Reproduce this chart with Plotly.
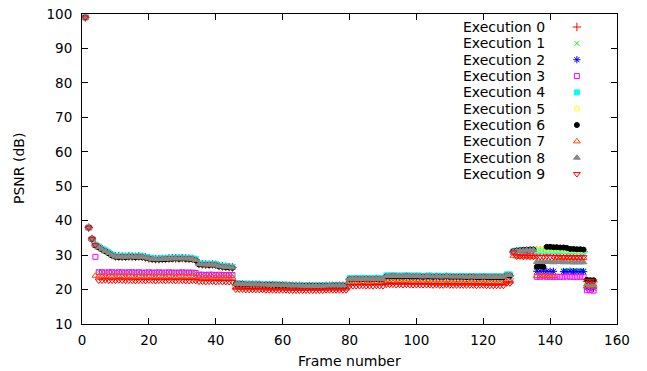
import plotly.graph_objects as go

frames = list(range(1, 154))

exec_0 = [99.0, 38.0, 34.7, 32.9,
    32.3, 31.7, 31.2, 30.6, 30.0, 29.6, 29.6, 29.5, 29.5, 29.6, 29.5, 29.5, 29.6, 29.5, 29.3, 29.0, 28.9, 28.8, 28.8, 28.9,
    28.9, 29.0, 29.1, 29.0, 29.0, 29.1, 29.0, 28.9, 28.9, 28.6, 27.4, 27.3, 27.2, 27.2, 27.3, 27.2, 26.8, 26.7, 26.6, 26.5, 26.4,
    21.5, 21.5, 21.5, 21.4, 21.4, 21.4, 21.4, 21.4, 21.3, 21.3, 21.3, 21.3, 21.3, 21.2, 21.2, 21.2, 21.1, 21.1, 21.1, 21.1,
    21.0, 21.0, 21.0, 21.0, 21.0, 21.0, 21.0, 21.1, 21.1, 21.1, 21.1, 21.1, 21.1, 21.1,
    23.0, 23.0, 23.0, 23.0, 23.1, 23.0, 23.0, 23.0, 23.1, 23.0, 23.0,
    23.7, 23.7, 23.8, 23.7, 23.7, 23.7, 23.8, 23.7, 23.7, 23.7, 23.7, 23.6, 23.7, 23.7, 23.6, 23.7, 23.6, 23.6, 23.7, 23.6,
    23.6, 23.6, 23.6, 23.6, 23.5, 23.6, 23.6, 23.5, 23.5, 23.6, 23.5, 23.5, 23.5, 23.5, 23.5, 23.5,
    24.0, 24.0,
    30.9, 31.1, 31.2, 31.2, 31.3, 31.3, 31.4,
    31.3, 31.3, 31.3, 31.2, 31.2, 31.2, 31.2, 31.2, 31.1, 31.1, 31.1, 31.1, 31.0, 31.0, 31.0,
    22.3, 22.2, 22.2]

exec_1 = [99.0, 38.0, 34.7, 32.8,
    25.2, 25.1, 25.1, 25.2, 25.1, 25.1, 25.2, 25.1, 25.1, 25.1, 25.2, 25.1, 25.1, 25.1, 25.0, 25.1, 25.1, 25.0, 25.1, 25.1,
    25.0, 25.1, 25.1, 25.1, 25.0, 25.1, 25.1, 25.0, 25.1, 25.0,
    24.5, 24.4, 24.4, 24.5, 24.4, 24.4, 24.4, 24.3, 24.4, 24.4, 24.3,
    21.7, 21.7, 21.7, 21.6, 21.6, 21.6, 21.6, 21.6, 21.5, 21.5, 21.5, 21.5, 21.5, 21.4, 21.4, 21.4, 21.3, 21.3, 21.3, 21.3,
    21.2, 21.2, 21.2, 21.2, 21.2, 21.2, 21.2, 21.3, 21.3, 21.3, 21.3, 21.3, 21.3, 21.3,
    23.2, 23.2, 23.2, 23.2, 23.3, 23.2, 23.2, 23.2, 23.3, 23.2, 23.2,
    24.0, 24.0, 24.1, 24.0, 24.0, 24.0, 24.1, 24.0, 24.0, 24.0, 24.0, 23.9, 24.0, 24.0, 23.9, 24.0, 23.9, 23.9, 24.0, 23.9,
    23.9, 23.9, 23.9, 23.9, 23.8, 23.9, 23.9, 23.8, 23.8, 23.9, 23.8, 23.8, 23.8, 23.8, 23.8, 23.8,
    24.3, 24.3,
    31.0, 31.2, 31.3, 31.3, 31.4, 31.4, 31.5,
    31.6, 31.5, 31.6, 31.5, 31.5, 31.5, 31.4, 31.4, 25.6, 25.6, 25.5, 25.6, 25.5, 25.5, 25.5,
    21.2, 21.1, 21.1]

exec_2 = [99.0, 38.0, 34.7, 33.0,
    32.4, 31.8, 31.3, 30.7, 30.1, 29.7, 29.7, 29.7, 29.6, 29.7, 29.7, 29.6, 29.7, 29.6, 29.4, 29.2, 29.0, 28.9, 28.9, 29.0,
    29.0, 29.1, 29.1, 29.2, 29.1, 29.2, 29.1, 29.1, 29.0, 28.7, 27.5, 27.4, 27.4, 27.3, 27.4, 27.3, 26.9, 26.8, 26.7, 26.6, 26.5,
    21.1, 21.1, 21.1, 21.0, 21.0, 21.0, 21.0, 21.0, 21.0, 20.9, 20.9, 20.9, 20.9, 20.9, 20.9, 20.9, 20.8, 20.8, 20.8, 20.8,
    20.8, 20.8, 20.8, 20.8, 20.8, 20.8, 20.8, 20.9, 20.9, 20.9, 20.9, 20.9, 20.9, 20.9,
    22.4, 22.4, 22.5, 22.4, 22.4, 22.5, 22.4, 22.4, 22.5, 22.4, 22.4,
    22.9, 22.9, 23.0, 22.9, 22.9, 22.9, 23.0, 22.9, 22.9, 22.9, 22.9, 22.8, 22.9, 22.9, 22.8, 22.9, 22.8, 22.8, 22.9, 22.8,
    22.8, 22.8, 22.8, 22.8, 22.7, 22.8, 22.8, 22.7, 22.7, 22.8, 22.7, 22.7, 22.7, 22.7, 22.7, 22.7,
    23.1, 23.1,
    30.9, 31.1, 31.2, 31.3, 31.3, 31.4, 31.4,
    25.3, 25.3, 25.4, 25.3, 25.3, 25.3, 31.5, 31.4, 25.2, 25.2, 25.3, 25.2, 25.2, 25.2, 25.2,
    20.5, 20.5, 20.4]

exec_3 = [99.0, 38.0, 34.7, 29.5,
    25.0, 25.0, 24.9, 25.0, 25.0, 24.9, 25.0, 25.0, 24.9, 25.0, 25.0, 24.9, 25.0, 24.9, 24.9, 25.0, 24.9, 24.9, 25.0, 24.9,
    24.9, 25.0, 24.9, 24.9, 24.9, 25.0, 24.9, 24.9, 24.9, 24.8,
    24.3, 24.3, 24.2, 24.3, 24.3, 24.2, 24.3, 24.2, 24.2, 24.2, 24.2,
    21.0, 21.0, 21.0, 20.9, 20.9, 20.9, 20.9, 20.9, 20.9, 20.8, 20.8, 20.8, 20.8, 20.8, 20.8, 20.8, 20.7, 20.7, 20.7, 20.7,
    20.7, 20.7, 20.7, 20.7, 20.7, 20.7, 20.7, 20.8, 20.8, 20.8, 20.8, 20.8, 20.8, 20.8,
    22.3, 22.3, 22.3, 22.3, 22.4, 22.3, 22.3, 22.3, 22.4, 22.3, 22.3,
    22.6, 22.6, 22.7, 22.6, 22.6, 22.6, 22.7, 22.6, 22.6, 22.6, 22.6, 22.5, 22.6, 22.6, 22.5, 22.6, 22.5, 22.5, 22.6, 22.5,
    22.5, 22.5, 22.5, 22.5, 22.4, 22.5, 22.5, 22.4, 22.4, 22.5, 22.4, 22.4, 22.4, 22.4, 22.4, 22.4,
    22.9, 22.9,
    30.8, 31.0, 31.1, 31.2, 31.2, 31.3, 31.3,
    23.7, 23.7, 23.8, 23.7, 23.7, 23.7, 23.7, 23.7, 23.7, 23.8, 23.7, 23.7, 23.7, 23.7, 23.7,
    19.8, 19.8, 19.7]

exec_4 = [99.0, 38.0, 34.7, 33.1,
    32.5, 31.9, 31.4, 30.8, 30.2, 29.8, 29.7, 29.8, 29.7, 29.8, 29.8, 29.7, 29.8, 29.7, 29.5, 29.3, 29.1, 29.0, 29.0, 29.1,
    29.1, 29.2, 29.2, 29.3, 29.2, 29.3, 29.2, 29.2, 29.1, 28.8, 27.6, 27.5, 27.5, 27.4, 27.5, 27.4, 27.0, 26.9, 26.8, 26.7, 26.6,
    21.8, 21.8, 21.7, 21.7, 21.7, 21.6, 21.7, 21.6, 21.6, 21.6, 21.5, 21.5, 21.5, 21.4, 21.4, 21.4, 21.3, 21.3, 21.3, 21.3,
    21.2, 21.2, 21.2, 21.2, 21.2, 21.2, 21.2, 21.3, 21.3, 21.3, 21.3, 21.3, 21.3, 21.3,
    23.3, 23.3, 23.3, 23.3, 23.4, 23.3, 23.3, 23.3, 23.4, 23.3, 23.3,
    24.1, 24.1, 24.1, 24.1, 24.0, 24.1, 24.1, 24.1, 24.0, 24.1, 24.0, 24.0, 24.0, 24.1, 24.0, 24.0, 24.0, 24.0, 24.0, 24.0,
    23.9, 23.9, 24.0, 23.9, 23.9, 23.9, 23.9, 23.9, 23.9, 23.9, 23.9, 23.9, 23.8, 23.9, 23.8, 23.8,
    24.4, 24.4,
    31.1, 31.3, 31.4, 31.4, 31.5, 31.5, 31.6,
    31.3, 31.4, 31.3, 31.3, 31.3, 31.2, 31.3, 31.2, 31.2, 31.2, 31.1, 31.1, 31.1, 31.1, 31.0,
    22.0, 22.0, 21.9]

exec_5 = [99.0, 38.0, 34.7, 32.9,
    32.2, 31.6, 31.1, 30.5, 29.9, 29.5, 29.5, 29.5, 29.4, 29.5, 29.5, 29.4, 29.5, 29.4, 29.2, 29.0, 28.8, 28.7, 28.7, 28.8,
    28.8, 28.9, 28.9, 29.0, 28.9, 29.0, 28.9, 28.9, 28.8, 28.5, 27.3, 27.2, 27.2, 27.1, 27.2, 27.1, 26.7, 26.6, 26.5, 26.4, 26.3,
    21.1, 21.1, 21.0, 21.0, 21.0, 21.0, 21.0, 20.9, 20.9, 20.9, 20.9, 20.9, 20.9, 20.8, 20.8, 20.8, 20.8, 20.8, 20.8, 20.8,
    20.7, 20.7, 20.7, 20.7, 20.7, 20.7, 20.7, 20.8, 20.8, 20.8, 20.8, 20.8, 20.8, 20.8,
    22.6, 22.6, 22.6, 22.6, 22.7, 22.6, 22.6, 22.6, 22.7, 22.6, 22.6,
    22.9, 23.0, 23.0, 22.9, 23.0, 22.9, 23.0, 22.9, 22.9, 22.9, 22.9, 22.9, 22.9, 22.9, 22.8, 22.9, 22.8, 22.8, 22.9, 22.8,
    22.8, 22.8, 22.8, 22.8, 22.8, 22.8, 22.8, 22.7, 22.8, 22.8, 22.7, 22.7, 22.7, 22.7, 22.7, 22.7,
    23.2, 23.2,
    31.0, 31.2, 31.3, 31.3, 31.4, 31.4, 31.5,
    31.6, 31.6, 31.5, 31.6, 31.5, 31.5, 31.5, 31.5, 31.4, 31.4, 31.4, 31.4, 31.3, 31.3, 31.3,
    21.8, 21.7, 21.7]

exec_6 = [99.0, 38.0, 34.7, 32.8,
    32.2, 31.6, 31.1, 30.5, 29.9, 29.5, 29.4, 29.5, 29.4, 29.5, 29.5, 29.4, 29.5, 29.4, 29.2, 29.0, 28.8, 28.7, 28.7, 28.8,
    28.8, 28.9, 28.9, 29.0, 28.9, 29.0, 28.9, 28.9, 28.8, 28.5, 27.3, 27.2, 27.2, 27.1, 27.2, 27.1, 26.7, 26.6, 26.5, 26.4, 26.3,
    21.6, 21.6, 21.6, 21.5, 21.5, 21.5, 21.5, 21.5, 21.4, 21.4, 21.4, 21.4, 21.3, 21.3, 21.3, 21.2, 21.2, 21.2, 21.1, 21.1,
    21.1, 21.1, 21.1, 21.1, 21.1, 21.1, 21.1, 21.1, 21.1, 21.2, 21.2, 21.2, 21.2, 21.2,
    23.0, 23.0, 23.1, 23.0, 23.0, 23.1, 23.0, 23.0, 23.1, 23.0, 23.0,
    23.8, 23.8, 23.9, 23.8, 23.8, 23.8, 23.9, 23.8, 23.8, 23.8, 23.8, 23.7, 23.8, 23.8, 23.7, 23.8, 23.7, 23.7, 23.8, 23.7,
    23.7, 23.7, 23.7, 23.7, 23.6, 23.7, 23.7, 23.6, 23.6, 23.7, 23.6, 23.6, 23.6, 23.6, 23.6, 23.6,
    24.1, 24.1,
    31.1, 31.3, 31.4, 31.5, 31.5, 31.6, 31.6,
    26.6, 26.7, 26.6, 32.4, 32.4, 32.3, 32.3, 32.2, 32.2, 32.1, 31.8, 31.8, 31.7, 31.7, 31.6,
    22.8, 22.7, 22.7]

exec_7 = [99.0, 38.0, 34.7, 24.0,
    23.8, 23.8, 23.9, 23.8, 23.8, 23.8, 23.9, 23.8, 23.8, 23.8, 23.8, 23.7, 23.8, 23.8, 23.7, 23.8, 23.8, 23.7, 23.8, 23.8,
    23.7, 23.8, 23.8, 23.7, 23.8, 23.8, 23.7, 23.7, 23.8, 23.7,
    23.5, 23.5, 23.4, 23.5, 23.5, 23.4, 23.5, 23.4, 23.4, 23.4, 23.4,
    20.5, 20.5, 20.5, 20.4, 20.4, 20.4, 20.4, 20.4, 20.4, 20.3, 20.3, 20.3, 20.3, 20.3, 20.3, 20.3, 20.2, 20.2, 20.2, 20.2,
    20.2, 20.2, 20.2, 20.2, 20.2, 20.2, 20.2, 20.3, 20.3, 20.3, 20.3, 20.3, 20.3, 20.3,
    21.8, 21.8, 21.8, 21.8, 21.9, 21.8, 21.8, 21.8, 21.9, 21.8, 21.8,
    22.0, 22.0, 22.0, 21.9, 22.0, 21.9, 22.0, 21.9, 21.9, 21.9, 21.9, 21.9, 21.9, 21.9, 21.8, 21.9, 21.8, 21.8, 21.9, 21.8,
    21.8, 21.8, 21.8, 21.8, 21.8, 21.8, 21.8, 21.7, 21.8, 21.8, 21.7, 21.7, 21.7, 21.7, 21.7, 21.7,
    22.3, 22.3,
    29.8, 29.6, 29.6, 29.7, 29.6, 29.6, 29.6,
    23.9, 23.9, 24.0, 23.9, 23.9, 23.9, 29.2, 29.2, 29.3, 29.2, 29.2, 29.2, 29.1, 29.1, 29.1,
    21.0, 21.0, 20.9]

exec_8 = [99.0, 38.0, 34.7, 32.9,
    32.3, 31.7, 31.2, 30.6, 30.0, 29.6, 29.5, 29.6, 29.5, 29.6, 29.6, 29.5, 29.6, 29.5, 29.3, 29.1, 28.9, 28.8, 28.8, 28.9,
    28.9, 29.0, 29.0, 29.1, 29.0, 29.1, 29.0, 29.0, 28.9, 28.6, 27.4, 27.3, 27.3, 27.2, 27.3, 27.2, 26.8, 26.7, 26.6, 26.5, 26.4,
    21.7, 21.7, 21.6, 21.6, 21.6, 21.5, 21.6, 21.5, 21.5, 21.5, 21.4, 21.4, 21.4, 21.3, 21.3, 21.3, 21.2, 21.2, 21.2, 21.2,
    21.1, 21.1, 21.1, 21.1, 21.1, 21.1, 21.1, 21.2, 21.2, 21.2, 21.2, 21.2, 21.2, 21.2,
    23.1, 23.1, 23.2, 23.1, 23.1, 23.2, 23.1, 23.1, 23.2, 23.1, 23.1,
    23.9, 23.9, 24.0, 23.9, 23.9, 23.9, 24.0, 23.9, 23.9, 23.9, 23.9, 23.8, 23.9, 23.9, 23.8, 23.9, 23.8, 23.8, 23.9, 23.8,
    23.8, 23.8, 23.8, 23.8, 23.7, 23.8, 23.8, 23.7, 23.7, 23.8, 23.7, 23.7, 23.7, 23.7, 23.7, 23.7,
    24.2, 24.2,
    31.0, 31.2, 31.3, 31.3, 31.4, 31.4, 31.5,
    28.0, 28.0, 28.1, 28.0, 28.0, 27.9, 28.0, 28.0, 27.9, 28.0, 27.9, 27.9, 27.9, 27.9, 27.9,
    21.5, 21.4, 21.4]

exec_9 = [99.0, 38.0, 34.7, 32.9,
    22.6, 22.6, 22.7, 22.6, 22.6, 22.6, 22.7, 22.6, 22.6, 22.6, 22.6, 22.5, 22.6, 22.6, 22.5, 22.6, 22.6, 22.5, 22.6, 22.6,
    22.5, 22.6, 22.6, 22.5, 22.6, 22.6, 22.5, 22.5, 22.6, 22.5,
    22.3, 22.3, 22.2, 22.3, 22.3, 22.2, 22.3, 22.2, 22.2, 22.2, 22.2,
    20.0, 20.0, 20.0, 19.9, 19.9, 19.9, 19.9, 19.9, 19.9, 19.8, 19.8, 19.8, 19.8, 19.8, 19.8, 19.8, 19.7, 19.7, 19.7, 19.7,
    19.7, 19.7, 19.7, 19.7, 19.7, 19.7, 19.7, 19.8, 19.8, 19.8, 19.8, 19.8, 19.8, 19.8,
    21.0, 21.0, 21.0, 21.0, 21.1, 21.0, 21.0, 21.0, 21.1, 21.0, 21.0,
    21.4, 21.4, 21.4, 21.3, 21.4, 21.3, 21.4, 21.3, 21.3, 21.3, 21.3, 21.3, 21.3, 21.3, 21.2, 21.3, 21.2, 21.2, 21.3, 21.2,
    21.2, 21.2, 21.2, 21.2, 21.2, 21.2, 21.2, 21.1, 21.2, 21.2, 21.1, 21.1, 21.1, 21.1, 21.1, 21.1,
    21.8, 21.8,
    30.8, 29.6, 29.6, 29.5, 29.6, 29.5, 29.5,
    29.6, 29.5, 29.5, 29.6, 29.5, 29.5, 29.5, 29.5, 29.4, 29.5, 29.4, 29.4, 29.4, 29.4, 29.4,
    22.5, 22.4, 22.4]

series = [exec_0, exec_1, exec_2, exec_3, exec_4, exec_5, exec_6, exec_7, exec_8, exec_9]
labels = ["Execution %d" % i for i in range(10)]
colors = ["#ff0000", "#00ff00", "#0000ff", "#ff00ff", "#00ffff",
          "#ffff00", "#000000", "#ff4500", "#888888", "#ff0000"]
symbols = ["cross-thin-open", "x-thin-open", "asterisk-open", "square-open", "square",
           "circle-open", "circle", "triangle-up-open", "triangle-up", "triangle-down-open"]
sizes = [6, 5, 6, 5, 5, 5, 5, 6, 6, 6]

for s in series:
    assert len(s) == len(frames), len(s)

FONT = "DejaVu Sans, Verdana, sans-serif"
fig = go.Figure()

for i, s in enumerate(series):
    fig.add_trace(go.Scatter(
        x=frames, y=s, mode="markers", name=labels[i], showlegend=False,
        marker=dict(symbol=symbols[i], size=sizes[i], color=colors[i],
                    line=dict(color=colors[i], width=1)),
        cliponaxis=False))

# gnuplot-style key: text right-aligned, sample marker to its right
key_text_x = 0.869
key_mark_x = 0.925
key_top = 0.958
key_step = 0.0527
for i in range(10):
    yk = key_top - i * key_step
    fig.add_annotation(x=key_text_x, y=yk, xref="paper", yref="paper",
                       text=labels[i], showarrow=False, xanchor="right", yanchor="middle",
                       font=dict(family=FONT, size=14, color="#000000"))
    fig.add_trace(go.Scatter(
        x=[key_mark_x], y=[yk], xaxis="x2", yaxis="y2", mode="markers", showlegend=False,
        marker=dict(symbol=symbols[i], size=sizes[i], color=colors[i],
                    line=dict(color=colors[i], width=1)),
        hoverinfo="skip"))

# axis titles (placed like gnuplot's xlabel / ylabel)
fig.add_annotation(x=0.5, y=0, xref="paper", yref="paper", text="Frame number",
                   showarrow=False, xanchor="center", yanchor="middle", yshift=-37,
                   font=dict(family=FONT, size=14, color="#000000"))
fig.add_annotation(x=0, y=0.5, xref="paper", yref="paper", text="PSNR (dB)",
                   showarrow=False, xanchor="center", yanchor="middle", xshift=-63, textangle=-90,
                   font=dict(family=FONT, size=14, color="#000000"))

axis_common = dict(showgrid=False, zeroline=False, showline=True, linecolor="#000000", linewidth=1,
                   mirror="ticks", ticks="inside", ticklen=6, tickcolor="#000000", tickwidth=1,
                   automargin=False,
                   tickfont=dict(family=FONT, size=13.5, color="#000000"))

fig.update_layout(
    width=647, height=371,
    margin=dict(l=82, r=30, t=14, b=47),
    paper_bgcolor="white", plot_bgcolor="white",
    showlegend=False,
    xaxis=dict(range=[0, 160], dtick=20, tick0=0, ticklabelstandoff=4, **axis_common),
    yaxis=dict(range=[10, 100], dtick=10, tick0=10, ticklabelstandoff=6, **axis_common),
    xaxis2=dict(overlaying="x", range=[0, 1], visible=False),
    yaxis2=dict(overlaying="y", range=[0, 1], visible=False),
)

fig.write_html("out.html")
